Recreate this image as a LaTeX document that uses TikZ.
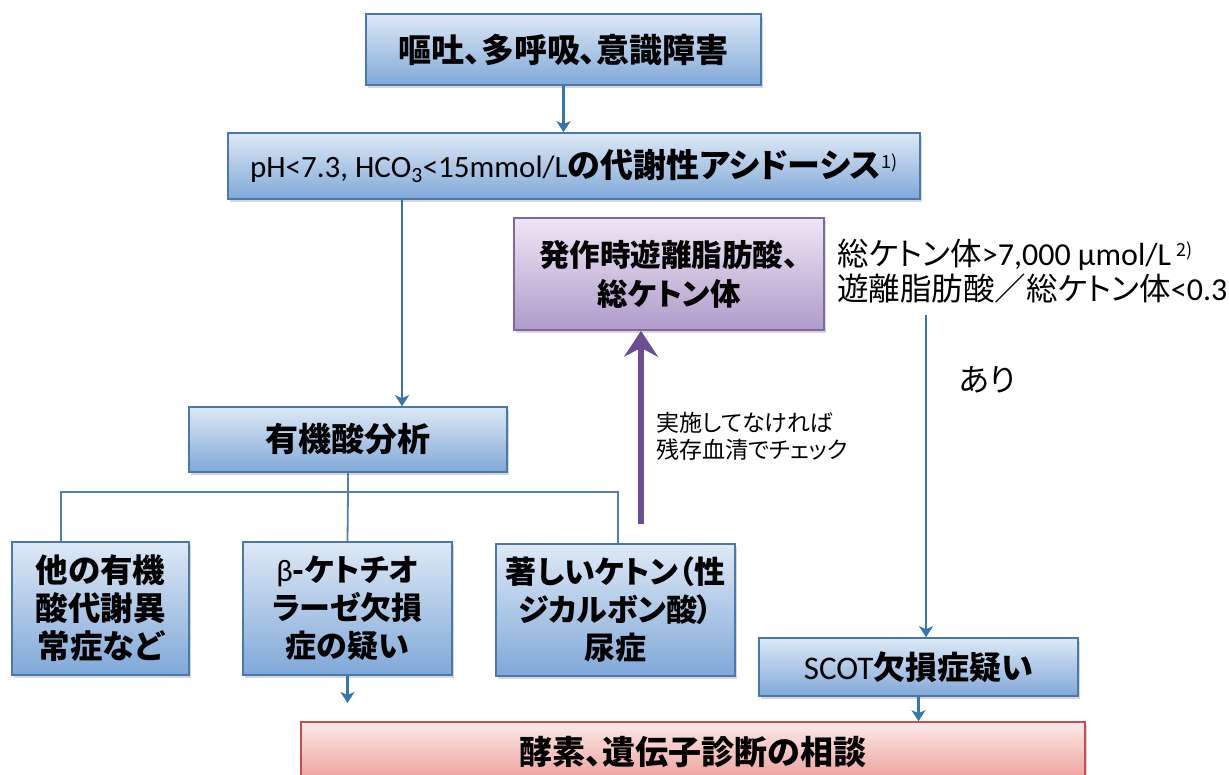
\documentclass[tikz,border=0pt]{standalone}
\usepackage{fontspec}
\setmainfont{Noto Sans CJK JP}[RawFeature=+palt]
\newfontfamily\lat{Carlito}
\usetikzlibrary{arrows.meta,shadows}
\definecolor{bluetop}{HTML}{DDE9F6}
\definecolor{bluebot}{HTML}{80A8D8}
\definecolor{blueedge}{HTML}{4A78A8}
\definecolor{purtop}{HTML}{EEE6F4}
\definecolor{purbot}{HTML}{B09BCB}
\definecolor{puredge}{HTML}{7F67A0}
\definecolor{pinktop}{HTML}{FDEAE8}
\definecolor{pinkbot}{HTML}{EC9E99}
\definecolor{pinkedge}{HTML}{C0504D}
\definecolor{arrblue}{HTML}{3576AE}
\definecolor{branchblue}{HTML}{557FA6}
\definecolor{arrpurple}{HTML}{6A4E94}
\begin{document}
\begin{tikzpicture}[x=1pt,y=-1pt,
  boxbase/.style={line width=1.6pt, align=center, inner sep=0pt,
    drop shadow={shadow xshift=2pt, shadow yshift=-3pt, opacity=0.3}},
  bluebox/.style={boxbase, draw=blueedge, top color=bluetop, bottom color=bluebot},
  purbox/.style={boxbase, draw=puredge, top color=purtop, bottom color=purbot},
  pinkbox/.style={boxbase, draw=pinkedge, top color=pinktop, bottom color=pinkbot},
  big/.style={font=\fontsize{33}{39}\selectfont\bfseries},
  mid/.style={font=\fontsize{32.5}{38}\selectfont\bfseries},
  arr/.style={draw=arrblue, line width=2.6pt, -{Stealth[length=11pt,width=14pt,inset=3pt]}},
  branch/.style={draw=branchblue, line width=1.8pt},
  parr/.style={draw=arrpurple, line width=6pt, -{Stealth[length=26pt,width=34pt,inset=9pt]}},
  lbl/.style={inner sep=0pt, font=\fontsize{31.5}{35}\selectfont}
]
\clip (0,0) rectangle (1229,775);
\fill[white] (0,0) rectangle (1229,775);

% boxes
\node[bluebox, big, minimum width=395pt, minimum height=71pt] (top) at (563.5,49.5) {嘔吐、多呼吸、意識障害};
\node[bluebox, big, minimum width=692pt, minimum height=66pt] (acid) at (574,166)
  {{\lat\mdseries\fontsize{31}{31}\selectfont pH<7.3, HCO\textsubscript{3}<15mmol/L}の代謝性アシドーシス\textsuperscript{\fontsize{18}{18}\selectfont\mdseries 1)}};
\node[purbox, font=\fontsize{30.5}{39}\selectfont\bfseries, minimum width=310pt, minimum height=112pt] (ffa) at (669,274) {発作時遊離脂肪酸、\\総ケトン体};
\node[bluebox, big, minimum width=318pt, minimum height=65pt] (org) at (348,439.5) {有機酸分析};
\node[bluebox, mid, minimum width=177pt, minimum height=133pt] (other) at (100.5,608.5) {他の有機\\酸代謝異\\常症など};
\node[bluebox, font=\fontsize{31}{38}\selectfont\bfseries, minimum width=209pt, minimum height=133pt] (beta) at (347.5,608.5) {{\lat\mdseries β}-ケトチオ\\ラーゼ欠損\\症の疑い};
\node[bluebox, font=\fontsize{31}{38}\selectfont\bfseries, minimum width=239pt, minimum height=132pt] (ket) at (615.5,610) {著しいケトン（性\\ジカルボン酸）\\尿症};
\node[bluebox, font=\fontsize{32}{38}\selectfont\bfseries, minimum width=319pt, minimum height=58pt] (scot) at (918.5,667) {{\lat\mdseries\fontsize{33}{33}\selectfont SCOT}欠損症疑い};
\node[pinkbox, big, minimum width=784pt, minimum height=60pt] (consult) at (693,752) {酵素、遺伝子診断の相談};

% labels
\node[lbl, anchor=base west] (crit1) at (837,266) {総ケトン体{\lat\fontsize{32}{32}\selectfont >7,000 μmol/L}\,\textsuperscript{\fontsize{18}{18}\selectfont 2)}};
\node[lbl, anchor=base west] (crit2) at (837,301) {遊離脂肪酸／総ケトン体{\lat\fontsize{32}{32}\selectfont <0.3}};
\node[lbl] (ari) at (987,380) {あり};
\node[inner sep=0pt, anchor=west, align=left, font=\fontsize{23}{27}\selectfont] (note) at (656,436) {実施してなければ\\残存血清でチェック};

% coordinates
\coordinate (c1) at (402,0);
\coordinate (c2) at (641,524);
\coordinate (c3) at (926,315);
\coordinate (c4) at (347.5,703);
\coordinate (bl) at (61,492);
\coordinate (br) at (618,492);

% connectors
\draw[arr] (top.south) -- (top.south |- acid.north);
\draw[arr] (c1 |- acid.south) -- (c1 |- org.north);
\draw[branch] (org.south) -- (org.south |- bl);
\draw[branch] (other.north -| bl) -- (bl) -- (br) -- (ket.north -| br);
\draw[branch] (org.south |- bl) -- (beta.north);
\draw[arr] (beta.south) -- (c4);
\draw[parr] (c2) -- (c2 |- ffa.south);
\draw[arr] (c3) -- (c3 |- scot.north);
\draw[arr] (scot.south) -- (scot.south |- consult.north);
\end{tikzpicture}
\end{document}
